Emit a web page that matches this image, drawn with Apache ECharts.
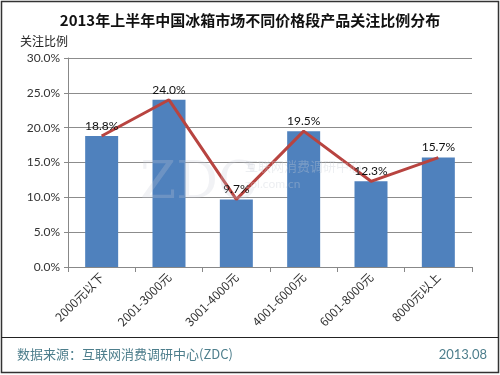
<!DOCTYPE html>
<html><head><meta charset="utf-8">
<script src="https://cdn.jsdelivr.net/npm/echarts@6/dist/echarts.min.js"></script>
<style>html,body{margin:0;padding:0;background:#fff}#c{width:500px;height:375px}</style>
</head><body><div id="c"></div>
<script>
const categories = ['2000元以下','2001-3000元','3001-4000元','4001-6000元','6001-8000元','8000元以上'];
const barValues = [18.8, 24.0, 9.7, 19.5, 12.3, 15.7];
const lineValues = [18.8, 24.0, 9.7, 19.5, 12.3, 15.7];
const yTicks = [0, 5, 10, 15, 20, 25, 30];

const chart = echarts.init(document.getElementById('c'), null, {renderer:'canvas'});
const numFont = 'Lato, "Noto Sans CJK SC", sans-serif';
chart.setOption({
  animation:false,
  backgroundColor:'#fff',
  title:{text:'2013年上半年中国冰箱市场不同价格段产品关注比例分布', left:'center', top:8,
    textStyle:{fontSize:15, fontWeight:'bold', color:'#111', fontFamily:'"Noto Sans CJK SC", sans-serif'}},
  grid:{left:68, right:28, top:58, bottom:108},
  xAxis:{type:'category', data:categories,
    axisLine:{lineStyle:{color:'#888', width:1}},
    axisTick:{show:true, alignWithLabel:false, length:5, lineStyle:{color:'#888'}},
    axisLabel:{rotate:45, fontSize:12, color:'#333', margin:8, interval:0, fontFamily:'"Noto Sans CJK SC", sans-serif'}},
  yAxis:{type:'value', min:yTicks[0], max:yTicks[yTicks.length-1], interval:5,
    name:'关注比例', nameLocation:'end', nameGap:11,
    nameTextStyle:{fontSize:12, color:'#222', align:'right', fontFamily:'"Noto Sans CJK SC", sans-serif'},
    axisLine:{show:true, lineStyle:{color:'#888'}},
    axisTick:{show:true, length:4, lineStyle:{color:'#888'}},
    splitLine:{lineStyle:{color:'#8c8c8c', width:1}},
    axisLabel:{fontSize:12, color:'#333', margin:8, fontFamily:numFont, formatter:v=>v.toFixed(1)+'%'}},
  series:[
    {type:'bar', data:barValues, barWidth:'49%', itemStyle:{color:'#4f81bd'}},
    {type:'line', data:lineValues, symbol:'none', lineStyle:{color:'#b84440', width:3}, z:3},
    {type:'bar', data:barValues, barWidth:'49%', barGap:'-100%', itemStyle:{color:'rgba(0,0,0,0)'}, z:5,
     label:{show:true, position:'top', distance:4, fontSize:12, color:'#111', fontFamily:numFont, formatter:p=>p.value.toFixed(1)+'%'}}
  ],
  graphic:[
    {type:'rect', shape:{x:1.5, y:1.5, width:497, height:371}, style:{fill:'none', stroke:'#333', lineWidth:1.5}, z:100},
    {type:'line', shape:{x1:1.5, y1:337.5, x2:498.5, y2:337.5}, style:{stroke:'#222', lineWidth:1.2}, z:100},
    {type:'text', left:17, top:348, style:{text:'数据来源：互联网消费调研中心(ZDC)', fontSize:13, fill:'#4d7e8c', fontFamily:'"Noto Sans CJK SC", sans-serif'}, z:100},
    {type:'text', right:13, top:348, style:{text:'2013.08', fontSize:13, fill:'#4d7e8c', fontFamily:numFont}, z:100},
    {type:'text', left:140, top:158, style:{text:'ZDC', fontSize:52, fill:'rgba(200,205,215,0.25)', fontFamily:'"DejaVu Serif", serif'}, z:50},
    {type:'text', left:245, top:160, style:{text:'互联网消费调研中心', fontSize:13, fill:'rgba(200,205,215,0.35)', fontFamily:'"Noto Sans CJK SC", sans-serif'}, z:50},
    {type:'text', left:245, top:178, style:{text:'zol.com.cn', fontSize:12, fill:'rgba(200,205,215,0.35)', fontFamily:numFont}, z:50}
  ]
});
</script></body></html>
